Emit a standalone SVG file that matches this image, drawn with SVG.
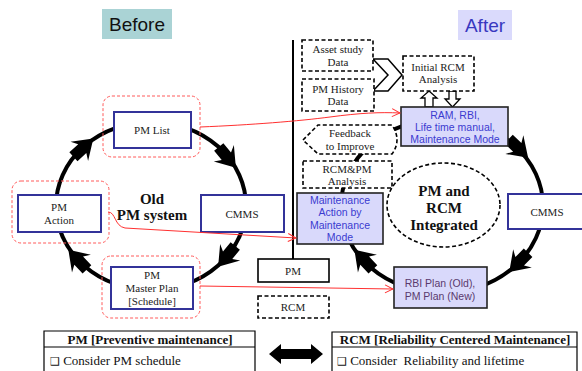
<svg xmlns="http://www.w3.org/2000/svg" width="582" height="371" viewBox="0 0 582 371">
<style>
.bg{fill:#fff}
.ring{fill:none;stroke:#000;stroke-width:4}
.bx{fill:#fff;stroke:#333399;stroke-width:2}
.pbx{fill:#d9d9fb;stroke:#222;stroke-width:1.6}
.dbx{fill:#fff;stroke:#000;stroke-width:1.6;stroke-dasharray:4 2.5}
.red{fill:none;stroke:#ff3030;stroke-width:1}
.rdash{fill:none;stroke:#ff5a5a;stroke-width:1;stroke-dasharray:3 2}
.s{font-family:"Liberation Serif",serif;font-size:11px;fill:#222;text-anchor:middle}
.sb{font-family:"Liberation Serif",serif;font-size:15px;font-weight:bold;fill:#111;text-anchor:middle}
.h{font-family:"Liberation Serif",serif;font-size:13px;font-weight:bold;fill:#111}
.t{font-family:"Liberation Serif",serif;font-size:13px;fill:#111}
.a{font-family:"Liberation Sans",Arial,sans-serif;font-size:10.5px;fill:#3b3bd0;text-anchor:middle}
.p{font-family:"Liberation Sans",Arial,sans-serif;font-size:10.5px;fill:#5a3a6e;text-anchor:middle}
.ttl{font-family:"Liberation Sans",Arial,sans-serif;font-size:19px;text-anchor:middle}
.ln{fill:none;stroke:#000;stroke-width:1.2}
</style>
<defs>
<polygon id="ah" points="-13,-6 -1,-6 -5,-13 14,0 -5,13 -1,6 -13,6" fill="#000"/>
<marker id="rv" viewBox="0 0 10 10" refX="9" refY="5" markerWidth="10" markerHeight="10" markerUnits="userSpaceOnUse" orient="auto">
<polyline points="1,1 9,5 1,9" fill="none" stroke="#ff3030" stroke-width="1"/>
</marker>
</defs>
<rect class="bg" x="0" y="0" width="582" height="371"/>

<g id="title-before">
<rect x="102" y="9" width="70" height="30" fill="#aad3d5"/>
<text class="ttl" x="137" y="31" fill="#111">Before</text>
</g>
<g id="title-after">
<rect x="458" y="10" width="54" height="30" fill="#dadafc"/>
<text class="ttl" x="485" y="32" fill="#3838c0">After</text>
</g>

<g id="connectors">
<ellipse class="ring" cx="151" cy="206" rx="95" ry="84"/>
<ellipse class="ring" cx="442" cy="206" rx="101" ry="87"/>
<use href="#ah" transform="translate(83,148) rotate(-42.5)"/>
<use href="#ah" transform="translate(227,157) rotate(50.6)"/>
<use href="#ah" transform="translate(227,256) rotate(129.4)"/>
<use href="#ah" transform="translate(78,260) rotate(226.5)"/>
<use href="#ah" transform="translate(518,148) rotate(43.7)"/>
<use href="#ah" transform="translate(519,262) rotate(134.3)"/>
<use href="#ah" transform="translate(364,260) rotate(226.8)"/>
<line x1="293" y1="40" x2="293" y2="259" stroke="#000" stroke-width="2"/>
<polygon points="373,59 388,59 402,75 388,91 373,91 388,75" fill="#fff" stroke="#000" stroke-width="1.5"/>
<polygon points="429,91 437,98 433,98 433,107 425,107 425,98 421,98" fill="#fff" stroke="#000" stroke-width="1.3"/>
<polygon points="449,91 456,91 456,99 460,99 452.5,107 445,99 449,99" fill="#fff" stroke="#000" stroke-width="1.3"/>
<polygon points="269,354 281,344 281,349 311,349 311,344 323,354 311,364 311,359 281,359 281,364" fill="#000"/>
</g>

<g id="pmlist">
<rect class="rdash" x="103" y="96" width="97" height="61" rx="9"/>
<rect class="bx" x="114" y="112" width="77" height="36"/>
<text class="s" x="152" y="134">PM List</text>
</g>
<g id="pmaction">
<rect class="rdash" x="12" y="181" width="97" height="62" rx="9"/>
<rect class="bx" x="18" y="195" width="83" height="37"/>
<text class="s" x="59" y="211">PM</text>
<text class="s" x="59" y="224">Action</text>
</g>
<g id="cmms-left">
<rect class="bx" x="201" y="195" width="83" height="37"/>
<text class="s" x="242" y="218">CMMS</text>
</g>
<g id="masterplan">
<rect class="rdash" x="102" y="256" width="98" height="62" rx="9"/>
<rect class="bx" x="111" y="267" width="82" height="42"/>
<text class="s" x="152" y="279">PM</text>
<text class="s" x="152" y="292">Master Plan</text>
<text class="s" x="152" y="305">[Schedule]</text>
</g>
<g id="oldpm">
<text class="sb" x="152" y="204">Old</text>
<text class="sb" x="152" y="220">PM system</text>
</g>

<g id="pm-box">
<rect x="258" y="259" width="71" height="23" fill="#fff" stroke="#000" stroke-width="1.6"/>
<text class="s" x="293" y="275">PM</text>
</g>
<g id="rcm-box">
<rect class="dbx" x="258" y="296" width="71" height="22"/>
<text class="s" x="293" y="311">RCM</text>
</g>

<g id="asset">
<rect class="dbx" x="302" y="40" width="71" height="31"/>
<text class="s" x="338" y="53">Asset study</text>
<text class="s" x="338" y="66">Data</text>
</g>
<g id="history">
<rect class="dbx" x="302" y="79" width="72" height="32"/>
<text class="s" x="338" y="93">PM History</text>
<text class="s" x="338" y="105">Data</text>
</g>
<g id="initial">
<rect class="dbx" x="403" y="56" width="71" height="35"/>
<text class="s" x="438" y="71">Initial RCM</text>
<text class="s" x="438" y="83">Analysis</text>
</g>
<g id="ram">
<rect class="pbx" x="401" y="107" width="107" height="39"/>
<text class="a" x="455" y="119">RAM, RBI,</text>
<text class="a" x="455" y="131">Life time manual,</text>
<text class="a" x="455" y="143">Maintenance Mode</text>
</g>
<g id="feedback">
<path class="dbx" d="M303,140 L318,125 L392,125 Q402,140 392,154 L318,154 Z"/>
<text class="s" x="350" y="137">Feedback</text>
<text class="s" x="350" y="150">to Improve</text>
</g>
<g id="rcmpm">
<rect class="dbx" x="303" y="161" width="89" height="27"/>
<text class="s" x="347" y="173">RCM&amp;PM</text>
<text class="s" x="347" y="185">Analysis</text>
</g>
<g id="maint">
<rect class="pbx" x="297" y="193" width="86" height="51"/>
<text class="a" x="340" y="204">Maintenance</text>
<text class="a" x="340" y="216">Action by</text>
<text class="a" x="340" y="229">Maintenance</text>
<text class="a" x="340" y="241">Mode</text>
</g>
<g id="integrated">
<ellipse cx="443.5" cy="205" rx="56.5" ry="42" fill="#fff" stroke="#000" stroke-width="1.6" stroke-dasharray="4 2.5"/>
<text class="sb" x="444" y="196">PM and</text>
<text class="sb" x="444" y="213">RCM</text>
<text class="sb" x="444" y="230">Integrated</text>
</g>
<g id="cmms-right">
<rect class="bx" x="508" y="194" width="76" height="35"/>
<text class="s" x="547" y="216">CMMS</text>
</g>
<g id="rbi">
<rect class="pbx" x="394" y="267" width="93" height="41"/>
<text class="p" x="440" y="287">RBI Plan (Old),</text>
<text class="p" x="440" y="300">PM Plan (New)</text>
</g>

<g id="red-links">
<path class="red" d="M200,127 C250,125 300,121 330,117 C360,113 380,112 400,113" marker-end="url(#rv)"/>
<path class="red" d="M108,212 C116,212 114,226 125,228 L296,238" marker-end="url(#rv)"/>
<path class="red" d="M200,286 L393,289" marker-end="url(#rv)"/>
</g>

<g id="table-pm">
<path class="ln" d="M44,372 V331 H255 V372 M44,347 H255"/>
<text class="h" x="150" y="344" text-anchor="middle">PM [Preventive maintenance]</text>
<text class="t" x="50" y="365"><tspan font-family="DejaVu Sans" font-size="11">❑</tspan> Consider PM schedule</text>
</g>
<g id="table-rcm">
<path class="ln" d="M332,372 V332 H577 V372 M332,347 H577"/>
<text class="h" x="455" y="344" text-anchor="middle">RCM [Reliability Centered Maintenance]</text>
<text class="t" x="337" y="365"><tspan font-family="DejaVu Sans" font-size="11">❑</tspan> Consider&#160; Reliability and lifetime</text>
</g>
</svg>
